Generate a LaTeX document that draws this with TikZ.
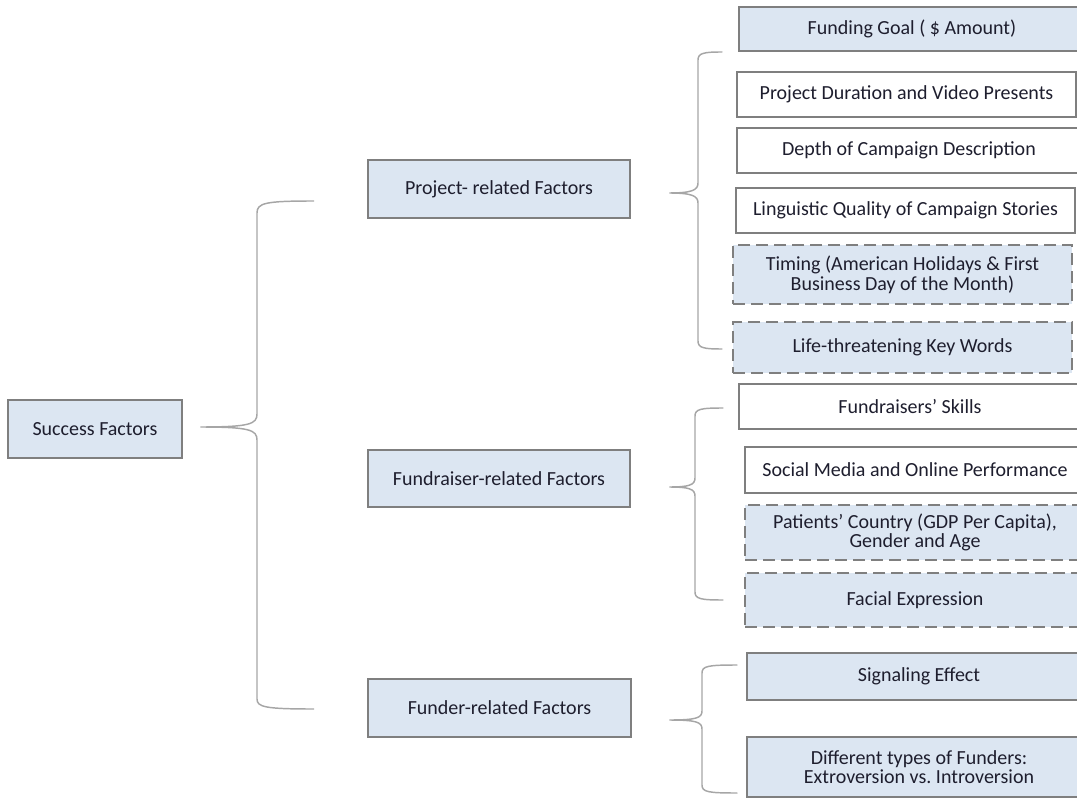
\documentclass[tikz,border=0pt]{standalone}
\usepackage{fontspec}
\setmainfont{Carlito}
\frenchspacing
\usetikzlibrary{calc}
\definecolor{boxfill}{HTML}{DCE6F2}
\definecolor{boxline}{HTML}{7F7F7F}
\definecolor{braceline}{HTML}{A6A6A6}
\definecolor{txt}{HTML}{1E1E2E}
\tikzset{
  fbox/.style={draw=boxline, line width=2.1pt, fill=boxfill, text=txt, align=center,
    inner sep=0pt, font=\fontsize{15}{14.8}\selectfont},
  wbox/.style={fbox, fill=white},
  dbox/.style={fbox, dash pattern=on 9pt off 4.5pt},
  brace/.style={draw=braceline, line width=1.1pt, line cap=round},
}
\begin{document}
\begin{tikzpicture}[x=0.75pt, y=-0.75pt]
\useasboundingbox (0,0) rectangle (1077,798);
\clip (0,0) rectangle (1077,798);
% main nodes
\node[fbox, minimum width=174*0.75pt, minimum height=58*0.75pt] (succ) at (95,429) {Success Factors};
\node[fbox, minimum width=262*0.75pt, minimum height=58*0.75pt] (proj) at (499,189) {Project- related Factors};
\node[fbox, minimum width=262*0.75pt, minimum height=57*0.75pt] (fund) at (499,478.5) {Fundraiser-related Factors};
\node[fbox, minimum width=263*0.75pt, minimum height=58*0.75pt] (funder) at (499.5,708) {Funder-related Factors};
% project items
\node[fbox, minimum width=346*0.75pt, minimum height=44*0.75pt] (p1) at (912,29) {Funding Goal ( \$ Amount)};
\node[wbox, minimum width=339*0.75pt, minimum height=45*0.75pt] (p2) at (906.5,94.5) {Project Duration and Video Presents};
\node[wbox, minimum width=344*0.75pt, minimum height=45*0.75pt] (p3) at (909,150.5) {Depth of Campaign Description};
\node[wbox, minimum width=339*0.75pt, minimum height=45*0.75pt] (p4) at (905.5,210.5) {Linguistic Quality of Campaign Stories};
\node[dbox, minimum width=339*0.75pt, minimum height=59*0.75pt] (p5) at (902.5,274.5) {Timing (American Holidays \& First\\Business Day of the Month)};
\node[dbox, minimum width=339*0.75pt, minimum height=51*0.75pt] (p6) at (902.5,347.5) {Life-threatening Key Words};
% fundraiser items
\node[wbox, minimum width=342*0.75pt, minimum height=45*0.75pt] (f1) at (910,406.5) {Fundraisers’ Skills};
\node[wbox, minimum width=340*0.75pt, minimum height=46*0.75pt] (f2) at (915,470) {Social Media and Online Performance};
\node[dbox, minimum width=340*0.75pt, minimum height=55*0.75pt] (f3) at (915,532.5) {Patients’ Country (GDP Per Capita),\\Gender and Age};
\node[dbox, minimum width=340*0.75pt, minimum height=54*0.75pt] (f4) at (915,600) {Facial Expression};
% funder items
\node[fbox, minimum width=344*0.75pt, minimum height=47*0.75pt] (u1) at (919,676.5) {Signaling Effect};
\node[fbox, minimum width=344*0.75pt, minimum height=60*0.75pt] (u2) at (919,767) {Different types of Funders:\\Extroversion vs. Introversion};
% brace coordinates
\coordinate (s0) at ($(succ.east)+(17,-2)$);
\coordinate (s1) at ($(proj.west)+(-53,12)$);
\coordinate (s2) at ($(funder.west)+(-53,1)$);
\coordinate (a0) at ($(proj.east)+(38,4)$);
\coordinate (a1) at (722,52);
\coordinate (a2) at (722,349);
\coordinate (b0) at ($(fund.east)+(38,8.5)$);
\coordinate (b1) at (723,408);
\coordinate (b2) at (723,600);
\coordinate (c0) at ($(funder.east)+(37,12)$);
\coordinate (c1) at (737,665);
\coordinate (c2) at (737,793);
% left brace
\draw[brace] (s1) .. controls (265,201) and (257,203) .. (257,213) -- (257,414)
  .. controls (257,424) and (250,427) .. (s0)
  .. controls (250,427) and (257,430) .. (257,440) -- (257,699)
  .. controls (257,707) and (265,709) .. (s2);
% brace 1
\draw[brace] (a1) .. controls (704,52) and (698,53) .. (698,60) -- (698,183)
  .. controls (698,190) and (692,193) .. (a0)
  .. controls (692,193) and (698,196) .. (698,203) -- (698,341)
  .. controls (698,348) and (704,349) .. (a2);
% brace 2
\draw[brace] (b1) .. controls (701,408) and (695,409) .. (695,416) -- (695,478)
  .. controls (695,485) and (689,487) .. (b0)
  .. controls (689,487) and (695,489) .. (695,496) -- (695,592)
  .. controls (695,599) and (701,600) .. (b2);
% brace 3
\draw[brace] (c1) .. controls (708,665) and (702,666) .. (702,673) -- (702,711)
  .. controls (702,718) and (696,720) .. (c0)
  .. controls (696,720) and (702,722) .. (702,729) -- (702,785)
  .. controls (702,792) and (708,793) .. (c2);
\end{tikzpicture}
\end{document}
